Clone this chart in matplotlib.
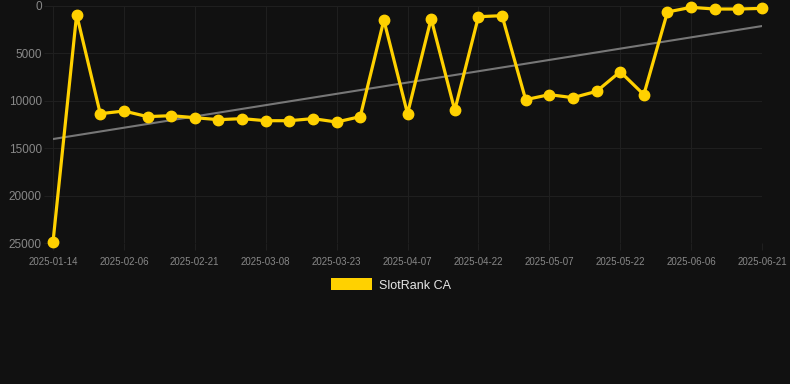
import numpy as np
import matplotlib.pyplot as plt
from matplotlib.patches import Patch

plt.rcParams['font.family'] = ['Liberation Sans', 'DejaVu Sans']

# rank values, one per observation (category axis)
ranks = [24900, 900, 11360, 11080, 11670, 11570, 11780, 11990, 11880, 12100,
         12100, 11880, 12240, 11670, 1480, 11360, 1340, 11000, 1130, 1020,
         9880, 9350, 9670, 9000, 6930, 9350, 630, 140, 320, 320, 250]
tick_labels = ['2025-01-14', '2025-02-06', '2025-02-21', '2025-03-08', '2025-03-23',
               '2025-04-07', '2025-04-22', '2025-05-07', '2025-05-22', '2025-06-06',
               '2025-06-21']
series_name = 'SlotRank CA'

bg = '#111111'
yellow = '#FFD100'
gridc = '#1f1f1f'

fig = plt.figure(figsize=(7.9, 3.84), dpi=100, facecolor=bg)
ax = fig.add_axes([53/790, 1-243/384, (762-53)/790, (243-6)/384], facecolor=bg)

x = np.arange(len(ranks))
y = np.array(ranks)

# trend line
k, b = np.polyfit(x, y, 1)
ax.plot(x, k*x + b, color='#777777', lw=1.5, zorder=2)

ax.plot(x, y, color=yellow, lw=2.3, marker='o', ms=7.5, zorder=3, clip_on=False)

ax.set_xlim(0, len(ranks)-1)
ax.set_ylim(25000, 0)
ax.set_yticks([0, 5000, 10000, 15000, 20000, 25000])
ax.set_xticks(x[::3])
ax.set_xticklabels(tick_labels)
ax.tick_params(axis='x', colors=gridc, labelcolor='#888888', labelsize=7,
               length=5, width=0.8, pad=5)
ax.tick_params(axis='y', colors=gridc, labelcolor='#888888', labelsize=8.5,
               length=6.5, width=0.8, pad=1.5)
ax.grid(True, color=gridc, lw=0.8)
ax.set_axisbelow(True)
for s in ax.spines.values():
    s.set_visible(False)

fig.legend(handles=[Patch(facecolor=yellow, label=series_name)], loc='center',
           bbox_to_anchor=(391/790, 1-285/384), frameon=False, labelcolor='#e6e6e6',
           fontsize=9, handlelength=3.3, handleheight=1.1, handletextpad=0.6)

fig.savefig('out.png', facecolor=bg)
